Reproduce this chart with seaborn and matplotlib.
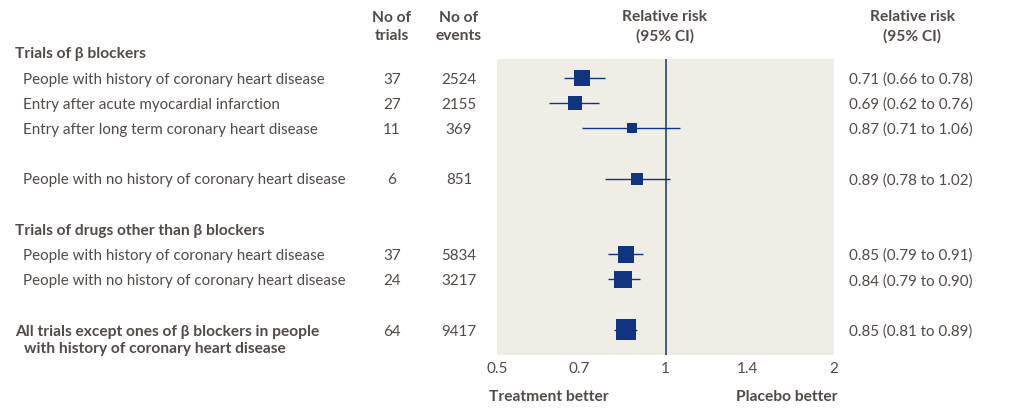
import numpy as np
import pandas as pd
import matplotlib
matplotlib.use("Agg")
import matplotlib.pyplot as plt
import matplotlib.transforms as mtransforms
import seaborn as sns

# data
labels = ["People with history of coronary heart disease",
          "Entry after acute myocardial infarction",
          "Entry after long term coronary heart disease",
          "People with no history of coronary heart disease",
          "People with history of coronary heart disease",
          "People with no history of coronary heart disease",
          "All trials except ones of \u03b2 blockers in people"]
n_trials = [37, 27, 11, 6, 37, 24, 64]
n_events = [2524, 2155, 369, 851, 5834, 3217, 9417]
rr = [0.71, 0.69, 0.87, 0.89, 0.85, 0.84, 0.85]
ci_low = [0.66, 0.62, 0.71, 0.78, 0.79, 0.79, 0.81]
ci_high = [0.78, 0.76, 1.06, 1.02, 0.91, 0.90, 0.89]
headings = ["Trials of \u03b2 blockers", "Trials of drugs other than \u03b2 blockers"]
tick_vals = [0.5, 0.7, 1, 1.4, 2]
tick_text = ["0.5", "0.7", "1", "1.4", "2"]

# layout
row_pos = [1, 2, 3, 5, 8, 9, 11]
head_pos = [0, 7]
bold_rows = [6]

NAVY = "#10347F"
TXT = "#514A46"
BG = "#F0EDE7"
FONT = ["Lato", "DejaVu Sans"]

sns.set_style("white")
plt.rcParams["font.family"] = FONT
plt.rcParams["text.color"] = TXT

df = pd.DataFrame({"rr": rr, "lo": ci_low, "hi": ci_high, "row": row_pos})
# box area proportional to precision (1 / width of log CI), in points^2
df["area"] = 21 / (np.log(df["hi"]) - np.log(df["lo"]))
amin, amax = df["area"].min(), df["area"].max()

W, H = 1011, 419
fig = plt.figure(figsize=(W / 100, H / 100), dpi=100)
ax = fig.add_axes([497 / W, 1 - 355 / H, 337 / W, 296 / H])
ax.set_facecolor(BG)
for s in ax.spines.values():
    s.set_visible(False)

ax.hlines(df["row"], df["lo"], df["hi"], color=NAVY, lw=1.0, zorder=2)
sns.scatterplot(data=df, x="rr", y="row", size="area", sizes=(amin, amax),
                size_norm=(amin, amax), marker="s", color=NAVY, linewidth=0,
                legend=False, ax=ax, zorder=3)
ax.axvline(1, color=NAVY, lw=1.1, zorder=4)

ax.set_xscale("log")
ax.set_xlim(0.5, 2)
ax.set_ylim(12.0, 0.25)
ax.set_yticks([])
ax.set_xticks(tick_vals)
ax.set_xticklabels(tick_text)
ax.xaxis.remove_overlapping_locs = False
ax.set_xticks([0.6, 0.7, 0.8, 0.9, 1.1, 1.2, 1.3, 1.4, 1.5], minor=True)
ax.xaxis.set_minor_formatter(plt.NullFormatter())
ax.tick_params(axis="x", which="major", length=0, pad=5, labelsize=11, labelcolor=TXT)
ax.tick_params(axis="x", which="minor", direction="in", length=4.5, width=1.5, color="white")
ax.set_xlabel("")
ax.set_ylabel("")

tr = mtransforms.blended_transform_factory(fig.transFigure, ax.transData)
fs = 10.9
fb = 11.2
dy = 0.07  # nudge text to sit on the row centre

for lab, pos in zip(headings, head_pos):
    ax.text(15 / W, pos + dy, lab, transform=tr, fontsize=fb, fontweight="bold",
            va="center", ha="left")

for i, (lab, pos) in enumerate(zip(labels, row_pos)):
    y = pos + dy
    if i in bold_rows:
        ax.text(15 / W, y, lab, transform=tr, fontsize=fb, fontweight="bold",
                va="center", ha="left")
        ax.text(24 / W, y + 0.68, "with history of coronary heart disease",
                transform=tr, fontsize=fb, fontweight="bold", va="center", ha="left")
    else:
        ax.text(23 / W, y, lab, transform=tr, fontsize=fs, va="center", ha="left")
    ax.text(392 / W, y, str(n_trials[i]), transform=tr, fontsize=fs,
            va="center", ha="center")
    ax.text(459 / W, y, str(n_events[i]), transform=tr, fontsize=fs,
            va="center", ha="center")
    ax.text(849 / W, y, f"{rr[i]:.2f} ({ci_low[i]:.2f} to {ci_high[i]:.2f})",
            transform=tr, fontsize=fs, va="center", ha="left")

hy = 1 - 27 / H
for x, t in [(392, "No of\ntrials"), (459, "No of\nevents"),
             (665, "Relative risk\n(95% CI)"), (912, "Relative risk\n(95% CI)")]:
    fig.text(x / W, hy, t, fontsize=fb, fontweight="bold", ha="center",
             va="center", linespacing=1.4)

fig.text(489 / W, 1 - 397 / H, "Treatment better", fontsize=fb,
         fontweight="bold", ha="left", va="center")
fig.text(837 / W, 1 - 397 / H, "Placebo better", fontsize=fb,
         fontweight="bold", ha="right", va="center")

fig.savefig("out.png", dpi=100)
